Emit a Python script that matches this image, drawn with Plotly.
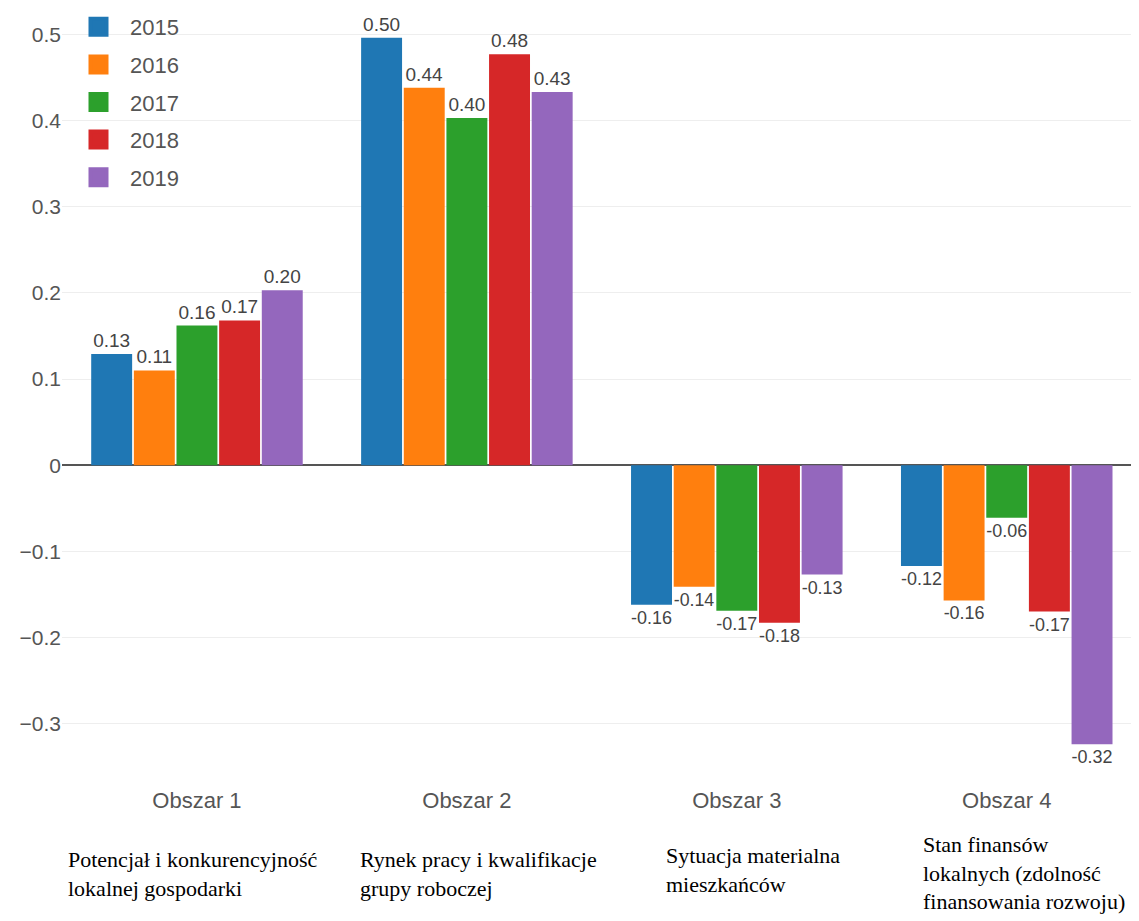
import plotly.graph_objects as go

categories = ["Obszar 1", "Obszar 2", "Obszar 3", "Obszar 4"]
years = ["2015", "2016", "2017", "2018", "2019"]
v2015 = [0.129, 0.496, -0.162, -0.117]
v2016 = [0.110, 0.438, -0.141, -0.157]
v2017 = [0.162, 0.403, -0.169, -0.061]
v2018 = [0.168, 0.477, -0.183, -0.170]
v2019 = [0.203, 0.433, -0.127, -0.324]
series = [v2015, v2016, v2017, v2018, v2019]
colors = ["#1f77b4", "#ff7f0e", "#2ca02c", "#d62728", "#9467bd"]
descriptions = [
    "Potencjał i konkurencyjność<br>lokalnej gospodarki",
    "Rynek pracy i kwalifikacje<br>grupy roboczej",
    "Sytuacja materialna<br>mieszkańców",
    "Stan finansów<br>lokalnych (zdolność<br>finansowania rozwoju)",
]
y_ticks = [-0.3, -0.2, -0.1, 0, 0.1, 0.2, 0.3, 0.4, 0.5]
y_tick_text = ["−0.3", "−0.2", "−0.1", "0", "0.1", "0.2", "0.3", "0.4", "0.5"]

# the page body has an 8px default margin; compensate so the figure fills the window
OFF = 8
W, H = 1139 - OFF, 921 - OFF
ML, MR, MT, MB = 62 - OFF, 0, 12 - OFF, 150
pw = W - ML - MR
ph = H - MT - MB


def page_x(px):
    return (px - OFF - ML) / pw


def page_y(py):
    return (H - MB - (py - OFF)) / ph


fig = go.Figure()
for name, vals, col in zip(years, series, colors):
    fig.add_trace(go.Bar(
        x=categories, y=vals, name=name,
        marker=dict(color=col, line=dict(width=0)),
        texttemplate="%{y:.2f}", textposition="outside",
        textfont=dict(family="Liberation Sans", size=19, color="#444"),
        cliponaxis=False, showlegend=False,
    ))
# legend entries with larger square swatches
for name, col in zip(years, colors):
    fig.add_trace(go.Scatter(
        x=[None], y=[None], mode="markers", name=name,
        marker=dict(symbol="square", size=16, color=col,
                    line=dict(color=col, width=4)),
        legendgroup=name,
    ))

desc_x = [66, 358, 664, 921]
desc_y = [845, 845, 841, 830]
for txt, px, py in zip(descriptions, desc_x, desc_y):
    fig.add_annotation(
        text=txt, xref="paper", yref="paper",
        x=page_x(px), y=page_y(py),
        xanchor="left", yanchor="top", align="left", showarrow=False,
        font=dict(family="Liberation Serif", size=22, color="#000"),
    )

fig.update_layout(
    width=W, height=H,
    margin=dict(l=ML, r=MR, t=MT, b=MB, autoexpand=False),
    paper_bgcolor="white", plot_bgcolor="white",
    barmode="group", bargap=0.21, bargroupgap=0.04,
    font=dict(family="Liberation Sans", color="#555"),
    legend=dict(x=page_x(67), y=page_y(6), xanchor="left", yanchor="top",
                font=dict(size=22, color="#555"), tracegroupgap=6,
                itemsizing="trace", itemwidth=53, bgcolor="rgba(0,0,0,0)"),
    xaxis=dict(range=[-0.5, 3.49], showgrid=False, showline=False, automargin=False,
               tickfont=dict(size=22, color="#555"), ticks="", ticklabelstandoff=14),
    yaxis=dict(range=[-0.355, 0.526], tickvals=y_ticks, ticktext=y_tick_text,
               showgrid=True, gridcolor="#eeeeee", gridwidth=1, automargin=False,
               zeroline=True, zerolinecolor="#555", zerolinewidth=1.5,
               tickfont=dict(size=21, color="#555"), showline=False),
)

fig.write_html("out.html")
